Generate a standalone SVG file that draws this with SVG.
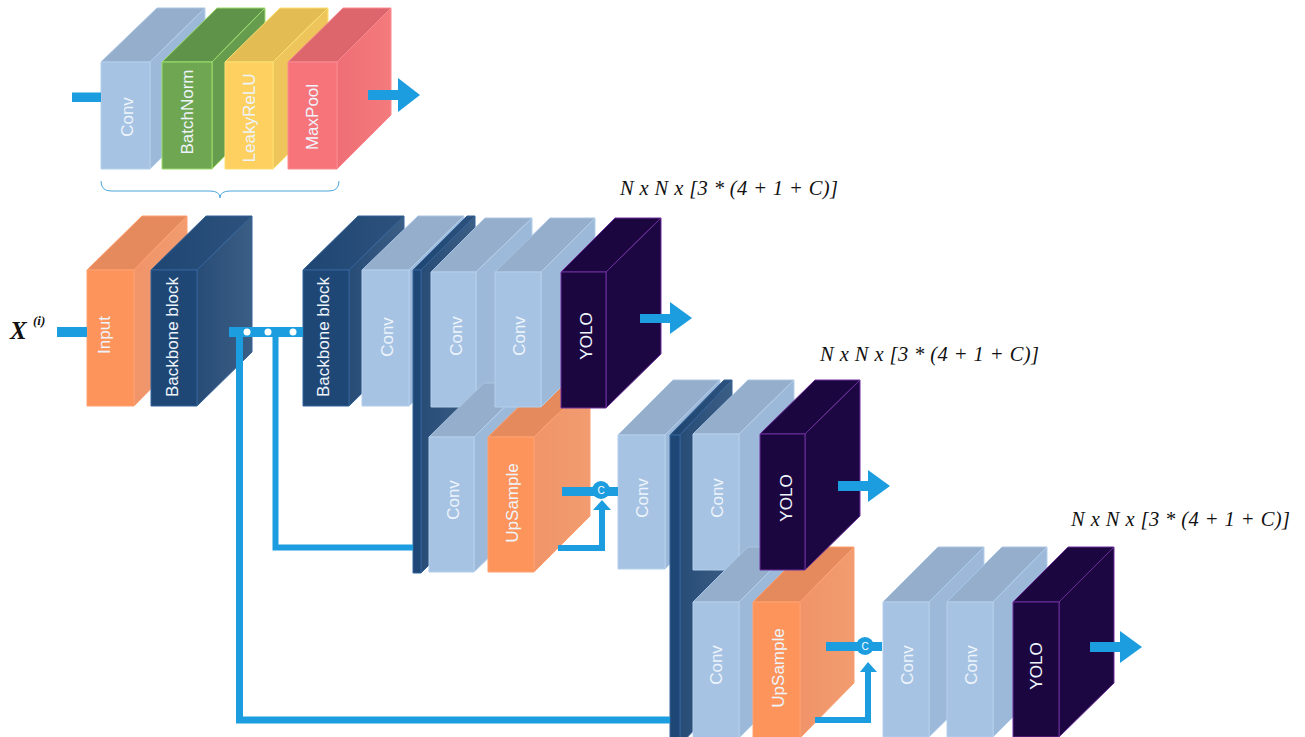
<svg xmlns="http://www.w3.org/2000/svg" width="1305" height="737" viewBox="0 0 1305 737">
<style>
.l{font-family:"Liberation Sans",Arial,sans-serif;font-size:17px;fill:#eef4fb;text-anchor:middle}
.n{font-family:"Liberation Serif","Times New Roman",serif;font-size:20.500px;font-style:italic;fill:#111}
.c{fill:#1c9ddf;stroke:none}
.cl{fill:none;stroke:#1c9ddf}
.f,.t,.s{stroke-width:1;stroke-linejoin:round}
.conv .f{fill:#a6c3e3;stroke:#b4cfec}.conv .t{fill:#95aecb;stroke:#a9c4e3}.conv .s{fill:#9db9d9;stroke:#b4cfec}
.green .f{fill:#6fa652;stroke:#9ddd6c}.green .t{fill:#60934a;stroke:#9ddd6c}.green .s{fill:#659c4d;stroke:#9ddd6c}
.yellow .f{fill:#fdd060;stroke:#fde070}.yellow .t{fill:#e3bc54;stroke:#fde070}.yellow .s{fill:#eec55b;stroke:#fde070}
.red .f{fill:#f7747b;stroke:#f98a90}.red .t{fill:#dd666c;stroke:#f98a90}.red .s{fill:url(#gr);stroke:#f98a90}
.orange .f{fill:#fd945c;stroke:#fda070}.orange .t{fill:#e58a5d;stroke:#fda070}.orange .s{fill:url(#go);stroke:#fda070}
.navy .f{fill:#1f4775;stroke:#35639a}.navy .t{fill:url(#gt);stroke:#35639a}.navy .s{fill:url(#gn);stroke:#35639a}
.yolo .f{fill:#1c0640;stroke:#6c2f9c}.yolo .t{fill:#1c0640;stroke:#6c2f9c}.yolo .s{fill:#1d0742;stroke:#6c2f9c}
</style>
<defs>
<linearGradient id="gn"><stop offset="0" stop-color="#274c76"/><stop offset="1" stop-color="#3b5e85"/></linearGradient>
<linearGradient id="gt"><stop offset="0" stop-color="#1f4673"/><stop offset="1" stop-color="#2c527c"/></linearGradient>
<linearGradient id="go"><stop offset="0" stop-color="#f0946a"/><stop offset="1" stop-color="#f29c70"/></linearGradient>
<linearGradient id="gr"><stop offset="0" stop-color="#ee6f76"/><stop offset="1" stop-color="#f47a7c"/></linearGradient>
</defs>
<rect width="1305" height="737" fill="#fff"/>

<g id="legend-conv" class="conv"><polygon class="t" points="101,62 157,8 205,8 150,62"/><polygon class="s" points="150,62 205,8 205,115 150,169"/><rect class="f" x="101" y="62" width="49" height="107"/><text class="l" transform="translate(133,117) rotate(-90)">Conv</text></g>
<g id="legend-batchnorm" class="green"><polygon class="t" points="162,62 217,8 265,8 212,62"/><polygon class="s" points="212,62 265,8 265,115 212,169"/><rect class="f" x="162" y="62" width="50" height="107"/><text class="l" transform="translate(193,112) rotate(-90)">BatchNorm</text></g>
<g id="legend-leakyrelu" class="yellow"><polygon class="t" points="225,62 280,8 328,8 273,62"/><polygon class="s" points="273,62 328,8 328,115 273,169"/><rect class="f" x="225" y="62" width="48" height="107"/><text class="l" transform="translate(255,118) rotate(-90)">LeakyReLU</text></g>
<g id="legend-maxpool" class="red"><polygon class="t" points="288,62 343,8 391,8 337,62"/><polygon class="s" points="337,62 391,8 391,115 337,169"/><rect class="f" x="288" y="62" width="49" height="107"/><text class="l" transform="translate(318,117) rotate(-90)">MaxPool</text></g>
<path id="legend-brace" d="M101,181 Q101,191 111,191 H210 Q220,191 220,198 Q220,191 230,191 H329 Q339,191 339,181" fill="none" stroke="#4ba6dc" stroke-width="1"/>

<g id="input" class="orange"><polygon class="t" points="87,270 142,216 187,216 134,270"/><polygon class="s" points="134,270 187,216 187,352 134,406"/><rect class="f" x="87" y="270" width="47" height="136"/><text class="l" transform="translate(110,335) rotate(-90)">Input</text></g>
<g id="backbone-1" class="navy"><polygon class="t" points="151,270 206,216 252,216 197,270"/><polygon class="s" points="197,270 252,216 252,352 197,406"/><rect class="f" x="151" y="270" width="46" height="136"/><text class="l" transform="translate(178,337) rotate(-90)">Backbone block</text></g>
<g id="backbone-2" class="navy"><polygon class="t" points="303,270 358,216 404,216 349,270"/><polygon class="s" points="349,270 404,216 404,352 349,406"/><rect class="f" x="303" y="270" width="46" height="136"/><text class="l" transform="translate(329,337) rotate(-90)">Backbone block</text></g>
<g id="conv-1" class="conv"><polygon class="t" points="362,270 418,216 464,216 409,270"/><polygon class="s" points="409,270 464,216 464,352 409,406"/><rect class="f" x="362" y="270" width="47" height="136"/><text class="l" transform="translate(393,337) rotate(-90)">Conv</text></g>
<g id="route-1" class="navy"><polygon class="t" points="413,270 467,216 475,216 421,270"/><polygon class="s" points="421,270 475,216 475,519 421,573"/><rect class="f" x="413" y="270" width="8" height="303"/></g>
<g id="conv-2" class="conv"><polygon class="t" points="431,272 485,218 532,218 476,272"/><polygon class="s" points="476,272 532,218 532,353 476,407"/><rect class="f" x="431" y="272" width="45" height="135"/><text class="l" transform="translate(462,336) rotate(-90)">Conv</text></g>
<g id="conv-3" class="conv"><polygon class="t" points="429,437 484,383 529,383 474,437"/><polygon class="s" points="474,437 529,383 529,519 474,572"/><rect class="f" x="429" y="437" width="45" height="135"/><text class="l" transform="translate(459,500) rotate(-90)">Conv</text></g>
<g id="upsample-1" class="orange"><polygon class="t" points="488,437 543,383 590,383 534,437"/><polygon class="s" points="534,437 590,383 590,516 534,572"/><rect class="f" x="488" y="437" width="46" height="135"/><text class="l" transform="translate(518,503) rotate(-90)">UpSample</text></g>
<g id="conv-4" class="conv"><polygon class="t" points="495,272 550,218 595,218 541,272"/><polygon class="s" points="541,272 595,218 595,353 541,407"/><rect class="f" x="495" y="272" width="46" height="135"/><text class="l" transform="translate(525,336) rotate(-90)">Conv</text></g>
<g id="yolo-1" class="yolo"><polygon class="t" points="561,272 615,218 661,218 606,272"/><polygon class="s" points="606,272 661,218 661,354 606,408"/><rect class="f" x="561" y="272" width="45" height="136"/><text class="l" transform="translate(592,336) rotate(-90)">YOLO</text></g>

<g id="conv-5" class="conv"><polygon class="t" points="618,435 673,380 720,380 665,435"/><polygon class="s" points="665,435 720,380 720,514 665,569"/><rect class="f" x="618" y="435" width="47" height="134"/><text class="l" transform="translate(648,498) rotate(-90)">Conv</text></g>
<g id="route-2" class="navy"><polygon class="t" points="670,435 724,380 732,380 680,435"/><polygon class="s" points="680,435 732,380 732,690 680,745"/><rect class="f" x="670" y="435" width="10" height="310"/></g>
<g id="conv-6" class="conv"><polygon class="t" points="693,434 748,380 794,380 739,434"/><polygon class="s" points="739,434 794,380 794,516 739,570"/><rect class="f" x="693" y="434" width="46" height="136"/><text class="l" transform="translate(723,498) rotate(-90)">Conv</text></g>
<g id="conv-7" class="conv"><polygon class="t" points="693,602 748,547 794,547 739,602"/><polygon class="s" points="739,602 794,547 794,683 739,738"/><rect class="f" x="693" y="602" width="46" height="136"/><text class="l" transform="translate(722,665) rotate(-90)">Conv</text></g>
<g id="upsample-2" class="orange"><polygon class="t" points="753,602 808,547 854,547 800,602"/><polygon class="s" points="800,602 854,547 854,683 800,738"/><rect class="f" x="753" y="602" width="47" height="136"/><text class="l" transform="translate(784,668) rotate(-90)">UpSample</text></g>
<g id="yolo-2" class="yolo"><polygon class="t" points="760,434 815,380 860,380 805,434"/><polygon class="s" points="805,434 860,380 860,516 805,570"/><rect class="f" x="760" y="434" width="45" height="136"/><text class="l" transform="translate(792,498) rotate(-90)">YOLO</text></g>

<g id="conv-8" class="conv"><polygon class="t" points="883,602 938,547 984,547 929,602"/><polygon class="s" points="929,602 984,547 984,683 929,737"/><rect class="f" x="883" y="602" width="46" height="135"/><text class="l" transform="translate(913,665) rotate(-90)">Conv</text></g>
<g id="conv-9" class="conv"><polygon class="t" points="947,602 1002,547 1047,547 993,602"/><polygon class="s" points="993,602 1047,547 1047,683 993,737"/><rect class="f" x="947" y="602" width="46" height="135"/><text class="l" transform="translate(977,665) rotate(-90)">Conv</text></g>
<g id="yolo-3" class="yolo"><polygon class="t" points="1013,602 1068,547 1114,547 1059,602"/><polygon class="s" points="1059,602 1114,547 1114,683 1059,737"/><rect class="f" x="1013" y="602" width="46" height="135"/><text class="l" transform="translate(1042,666) rotate(-90)">YOLO</text></g>

<g id="connectors">
<rect class="c" x="72" y="92.500" width="29" height="9.500"/>
<polygon class="c" points="368,90 398,90 398,78 420,95 398,112 398,100 368,100"/>
<rect class="c" x="57" y="327" width="30" height="10"/>
<rect class="c" x="229" y="327" width="74" height="10"/>
<path class="cl" stroke-width="7" d="M239.500,337 V720 H670"/>
<path class="cl" stroke-width="6" d="M275.500,337 V547.500 H413"/>
<circle cx="247" cy="332" r="3.500" fill="#fff"/><circle cx="268" cy="332" r="3.500" fill="#fff"/><circle cx="293" cy="332" r="3.500" fill="#fff"/>
<polygon class="c" points="640,314 670,314 670,302 692,318 670,334 670,323 640,323"/>
<polygon class="c" points="838,481 868,481 868,470 890,486 868,502 868,491 838,491"/>
<polygon class="c" points="1090,642 1120,642 1120,631 1142,647 1120,663 1120,652 1090,652"/>
<rect class="c" x="562" y="487" width="56" height="9"/>
<circle class="c" cx="601" cy="490" r="9"/>
<path class="cl" stroke-width="6" d="M558,548 H602 V508"/>
<polygon class="c" points="602,500 611,510 593,510"/>
<rect class="c" x="826" y="642" width="56" height="9"/>
<circle class="c" cx="865" cy="646" r="9"/>
<path class="cl" stroke-width="6" d="M815,720 H868 V670"/>
<polygon class="c" points="868,662 877,672 860,672"/>
<text x="601" y="494" font-family="Liberation Sans, sans-serif" font-size="10" fill="#fff" text-anchor="middle">C</text>
<text x="865" y="650" font-family="Liberation Sans, sans-serif" font-size="10" fill="#fff" text-anchor="middle">C</text>
</g>

<text x="10" y="339" font-family="Liberation Serif, serif" font-size="25" font-weight="bold" font-style="italic" fill="#111">X</text>
<text x="33" y="325" font-family="Liberation Serif, serif" font-size="13" font-weight="bold" font-style="italic" fill="#111">(i)</text>
<text class="n" x="620" y="195" textLength="218" lengthAdjust="spacing">N x N x [3 * (4 + 1 + C)]</text>
<text class="n" x="820" y="361" textLength="219" lengthAdjust="spacing">N x N x [3 * (4 + 1 + C)]</text>
<text class="n" x="1071" y="526" textLength="219" lengthAdjust="spacing">N x N x [3 * (4 + 1 + C)]</text>
</svg>
